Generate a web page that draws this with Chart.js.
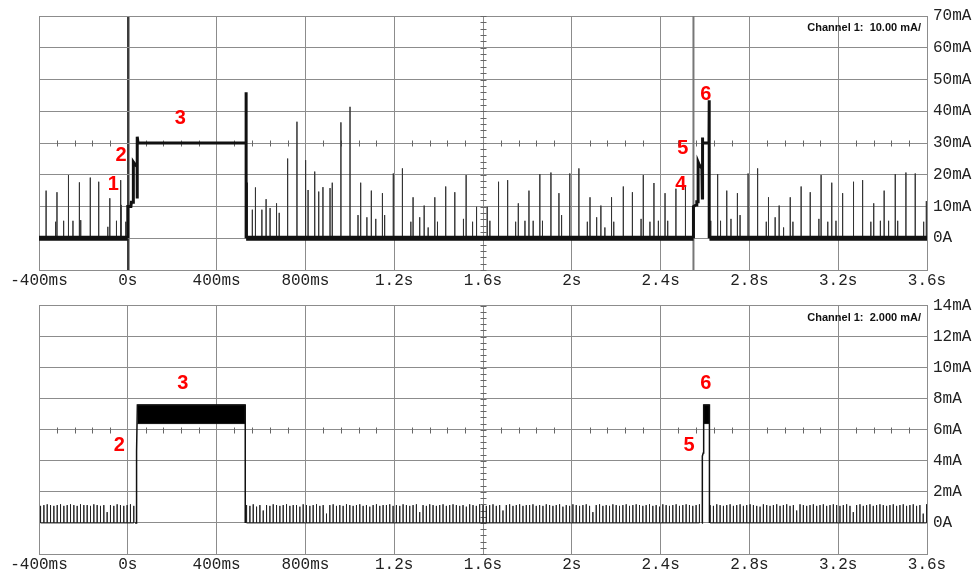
<!DOCTYPE html>
<html>
<head>
<meta charset="utf-8">
<script src="https://cdn.jsdelivr.net/npm/chart.js@4.4.1/dist/chart.umd.min.js"></script>
<style>
  html, body { margin: 0; padding: 0; background: #fff; }
  #wrap { position: relative; width: 975px; height: 575px; }
  canvas { position: absolute; left: 0; }
  #topChart { top: 0; }
  #bottomChart { top: 290px; }
</style>
</head>
<body>
<div id="wrap">
  <canvas id="topChart" width="975" height="290"></canvas>
  <canvas id="bottomChart" width="975" height="285"></canvas>
</div>
<script>
// time axis (ms)
const timeTicks = [-400, 0, 400, 800, 1200, 1600, 2000, 2400, 2800, 3200, 3600];
const timeLabels = ['-400ms', '0s', '400ms', '800ms', '1.2s', '1.6s', '2s', '2.4s', '2.8s', '3.2s', '3.6s'];

// current axes (mA)
const topTicks = [-10, 0, 10, 20, 30, 40, 50, 60, 70];
const topLabels = ['', '0A', '10mA', '20mA', '30mA', '40mA', '50mA', '60mA', '70mA'];
const bottomTicks = [-2, 0, 2, 4, 6, 8, 10, 12, 14];
const bottomLabels = ['', '0A', '2mA', '4mA', '6mA', '8mA', '10mA', '12mA', '14mA'];

// top capture, 10 mA/div
const topBaselineSpans = [[-400, 0], [533, 2548], [2620, 3600]];
const topPulse1Times = [0, 0, 14, 16, 25, 25, 30, 42, 42, 43, 46, 533, 533, 533];
const topPulse1Values = [0, 10, 10, 11.3, 11.3, 24, 23.5, 22.5, 12.5, 32, 30, 30, 46, 0];
const topPulse2Times = [2548, 2548, 2560, 2563, 2569, 2569, 2575, 2586, 2588, 2588, 2590, 2592, 2618, 2619, 2619];
const topPulse2Values = [0, 10, 10.5, 11.5, 11.5, 24, 23, 22, 12.7, 31.7, 30.5, 30, 30, 43.5, 0];
const topCursorTime = 2548;

const topSpikesBefore = [
  [-368, 15.0], [-325, 5.2], [-319, 14.5], [-289, 5.5], [-269, 19.9], [-266, 9.4], [-247, 5.5],
  [-218, 17.6], [-212, 5.7], [-169, 19.1], [-131, 17.8], [-90, 3.6], [-81, 12.6], [-51, 5.5],
  [-32, 18.3], [-30, 10.5], [-9, 5.2]
];
const topSpikesBetween = [
  [539, 17.5], [561, 9], [575, 16], [604, 9], [623, 12.3], [641, 9.5], [670, 11], [682, 8],
  [720, 25.1], [762, 36.7], [801, 24.6], [812, 15.2], [842, 21], [860, 14.7], [879, 16.1],
  [911, 15.8], [921, 17.5], [960, 36.5], [1001, 41.4], [1037, 7.3], [1049, 17.5], [1077, 6.6],
  [1097, 15], [1117, 6.1], [1147, 14.2], [1157, 7.3], [1196, 20.4], [1237, 22], [1275, 5.2],
  [1285, 12.9], [1315, 6.6], [1335, 10.3], [1353, 3.4], [1383, 12.9], [1395, 5.2], [1432, 16.3],
  [1473, 14.5], [1512, 6.1], [1524, 19.9], [1553, 5.2], [1571, 9.9], [1619, 9.9], [1631, 5.5],
  [1670, 17.8], [1711, 18.3], [1747, 5.2], [1759, 11], [1789, 5.5], [1807, 15], [1826, 5.5],
  [1856, 20.2], [1868, 5.5], [1906, 20.7], [1942, 14.2], [1954, 7.3], [1991, 20.4], [2032, 22],
  [2070, 5.2], [2082, 12.9], [2112, 6.6], [2131, 10.3], [2149, 3.4], [2179, 12.9], [2189, 5.2],
  [2232, 16.3], [2273, 14.5], [2312, 6.1], [2322, 19.9], [2352, 5.2], [2370, 17.4], [2390, 5.5],
  [2420, 14.2], [2432, 5.5], [2469, 15.6], [2512, 16.3]
];
const topSpikesAfter = [
  [2626, 5.5], [2657, 20.2], [2670, 5.5], [2698, 15], [2717, 6.1], [2746, 14.2], [2758, 7.3],
  [2794, 20.4], [2837, 22], [2876, 5.2], [2886, 12.9], [2916, 6.6], [2934, 10.3], [2954, 3.4],
  [2984, 12.9], [2996, 5.2], [3033, 16.3], [3074, 14.5], [3113, 6.1], [3123, 19.9], [3153, 5.2],
  [3171, 17.5], [3190, 5.5], [3220, 14.2], [3269, 17.8], [3310, 18.3], [3347, 5.2], [3360, 11],
  [3390, 5.5], [3407, 15], [3427, 5.5], [3457, 20.2], [3468, 5.5], [3505, 20.7], [3547, 20.4],
  [3585, 5.2], [3597, 11.7]
];

// bottom capture, 2 mA/div
const bottomPulse1Times = [33, 37, 38, 41, 43, 529, 529];
const bottomPulse1Values = [0, 0, 4.3, 4.6, 7.6, 7.6, 0];
const bottomPulse2Times = [2586, 2588, 2588, 2592, 2594, 2620, 2620];
const bottomPulse2Values = [0, 0, 4.3, 4.5, 7.6, 7.6, 0];
const bottomBands = [[43, 529], [2594, 2620]];
const bandHigh = 7.6;
const bandLow = 6.4;

// idle ripple, one pulse every 15 ms
const combPeriod = 15;
const combStarts = [-393, 535, 2623];
const combA = [1.1, 1.15, 1.2, 1.15, 1.1, 1.15, 1.2, 1.1, 1.15, 1.2, 1.15, 1.1, 1.2, 1.15, 1.15,
  1.1, 1.2, 1.15, 1.1, 1.15, 0.7, 1.15, 1.1, 1.2, 1.15, 1.1, 1.15, 1.2, 1.1];
const combB = [1.15, 1.1, 1.2, 1.05, 1.15, 0.8, 1.15, 1.1, 1.2, 1.15,
  1.1, 1.15, 1.2, 1.1, 1.15, 1.15, 1.05, 1.2, 1.15, 1.1,
  1.15, 1.2, 1.1, 1.15, 0.6, 1.15, 1.2, 1.1, 1.15, 1.1,
  1.2, 1.15, 1.1, 1.15, 1.2, 1.1, 1.15, 1.05, 1.15, 1.2,
  1.1, 1.15, 1.15, 1.2, 1.1, 1.15, 1.1, 1.2, 1.15, 1.1,
  1.15, 1.2, 0.7, 1.15, 1.1, 1.2, 1.15, 1.1, 1.15, 1.2,
  1.1, 1.15, 1.2, 1.15, 1.1, 1.15, 1.05, 1.2, 1.15, 1.1,
  1.2, 1.15, 1.1, 1.15, 1.2, 1.1, 1.15, 0.8, 1.15, 1.2,
  1.1, 1.15, 1.2, 1.1, 1.15, 1.15, 1.2, 1.1, 1.15, 1.1,
  1.2, 1.15, 1.1, 1.15, 1.2, 1.05, 1.15, 1.1, 1.2, 1.15,
  1.1, 1.15, 1.2, 1.1, 0.7, 1.15, 1.2, 1.1, 1.15, 1.1,
  1.2, 1.15, 1.1, 1.15, 1.2, 1.1, 1.15, 1.2, 1.15, 1.1,
  1.15, 1.2, 1.1, 1.15, 1.05, 1.2, 1.15, 1.1, 1.15, 1.2,
  1.1, 1.15, 1.2, 1.15, 1.1, 1.15, 1.2];
const combC = [1.15, 1.1, 1.2, 1.15, 1.1, 1.15, 1.2, 1.1, 1.15, 1.2,
  1.1, 1.15, 1.2, 1.15, 1.1, 1.05, 1.2, 1.15, 1.1, 1.15,
  1.2, 1.1, 1.15, 1.2, 1.1, 1.15, 0.8, 1.2, 1.15, 1.1,
  1.15, 1.2, 1.1, 1.15, 1.2, 1.1, 1.15, 1.2, 1.15, 1.1,
  1.15, 1.2, 1.1, 0.7, 1.15, 1.2, 1.1, 1.15, 1.2, 1.1,
  1.15, 1.2, 1.15, 1.1, 1.15, 1.2, 1.1, 1.15, 1.2, 1.1,
  1.15, 1.2, 1.1, 1.15, 0.6, 1.2];

// red markers: [text, time, current]
const topNotes = [['1', -65, 16.8], ['2', -30, 26], ['3', 237, 37.6], ['4', 2491, 16.8], ['5', 2500, 28.3], ['6', 2604, 45.4]];
const bottomNotes = [['2', -38, 5.0], ['3', 248, 9.0], ['5', 2528, 5.0], ['6', 2604, 9.0]];

const GRID = '#8c8c8c';
const INK = '#111';

function trace(times, values) {
    return times.map((t, i) => ({ x: t, y: values[i] }));
}

function spans(list, y) {
    return list.flatMap(([a, b]) => [{ x: a, y }, { x: b, y }, { x: b, y: null }]);
}

function spikes(...groups) {
    return groups.flatMap((pairs) => [
        ...pairs.flatMap(([t, v]) => [{ x: t, y: 0 }, { x: t, y: v }, { x: t, y: 0 }]),
        { x: pairs[pairs.length - 1][0], y: null },
    ]);
}

function comb(start, heights) {
    const pts = heights.flatMap((h, i) => {
        const t = start + i * combPeriod;
        return [{ x: t, y: 0 }, { x: t, y: h }, { x: t, y: 0 }];
    });
    pts.push({ x: start, y: null });
    return pts;
}

function lineSet(data, width, color) {
    return { data, borderColor: color, borderWidth: width, pointRadius: 0, fill: false, spanGaps: false };
}

const scopeDecor = {
    id: 'scopeDecor',
    beforeDatasetsDraw(chart, args, opts) {
        const { ctx, scales: { x, y } } = chart;
        const cy = Math.round(y.getPixelForValue(opts.centre)) + 0.5;
        const cx = Math.round(x.getPixelForValue(1600)) + 0.5;
        ctx.save();
        ctx.strokeStyle = '#666';
        ctx.lineWidth = 1;
        ctx.beginPath();
        for (let t = -400; t <= 3600; t += 80) {
            if (t % 400 === 0) continue;
            const px = Math.round(x.getPixelForValue(t)) + 0.5;
            ctx.moveTo(px, cy - 3);
            ctx.lineTo(px, cy + 3);
        }
        for (let v = opts.min; v <= opts.max + 1e-6; v += opts.minor) {
            const py = Math.round(y.getPixelForValue(v)) + 0.5;
            ctx.moveTo(cx - 3, py);
            ctx.lineTo(cx + 3, py);
        }
        ctx.stroke();
        ctx.restore();
    },
    afterDatasetsDraw(chart, args, opts) {
        const { ctx, chartArea, scales: { x, y } } = chart;
        ctx.save();
        ctx.fillStyle = '#111';
        ctx.font = 'bold 11px "Liberation Sans", Arial, sans-serif';
        ctx.textAlign = 'right';
        ctx.textBaseline = 'middle';
        ctx.fillText(opts.channel, chartArea.right - 6, chartArea.top + 12);
        ctx.fillStyle = '#ff0000';
        ctx.font = 'bold 20px "Liberation Sans", Arial, sans-serif';
        ctx.textAlign = 'center';
        opts.notes.forEach(([text, t, v]) => {
            ctx.fillText(text, x.getPixelForValue(t), y.getPixelForValue(v));
        });
        ctx.restore();
    },
};

function scopeOptions(cfg) {
    const tickFont = { family: '"Liberation Mono", "Courier New", monospace', size: 16 };
    return {
        responsive: false,
        animation: false,
        devicePixelRatio: 1,
        layout: { padding: { left: 39, top: cfg.padTop, right: 0, bottom: 0 } },
        plugins: {
            legend: { display: false },
            tooltip: { enabled: false },
            scopeDecor: cfg.decor,
        },
        elements: { line: { tension: 0, borderCapStyle: 'butt', borderJoinStyle: 'miter' } },
        scales: {
            x: {
                type: 'linear',
                min: -400,
                max: 3600,
                afterBuildTicks: (s) => { s.ticks = timeTicks.map((value) => ({ value })); },
                afterFit: (s) => { s.height = cfg.xHeight; },
                ticks: {
                    callback: (value, i) => timeLabels[i],
                    font: tickFont,
                    color: '#222',
                    padding: 1,
                    maxRotation: 0,
                    autoSkip: false,
                },
                grid: {
                    drawTicks: false,
                    color: (ctx) => (cfg.darkZero && ctx.tick && ctx.tick.value === 0 ? '#3c3c3c' : GRID),
                    lineWidth: (ctx) => (cfg.darkZero && ctx.tick && ctx.tick.value === 0 ? 2.5 : 1),
                },
                border: { color: GRID },
            },
            y: {
                type: 'linear',
                position: 'right',
                min: cfg.ticks[0],
                max: cfg.ticks[cfg.ticks.length - 1],
                afterBuildTicks: (s) => { s.ticks = cfg.ticks.map((value) => ({ value })); },
                afterFit: (s) => { s.width = 48; },
                ticks: {
                    callback: (value, i) => cfg.labels[i],
                    font: tickFont,
                    color: '#222',
                    padding: 6,
                    crossAlign: 'near',
                },
                grid: { drawTicks: false, color: GRID },
                border: { color: GRID },
            },
        },
    };
}

new Chart(document.getElementById('topChart'), {
    type: 'line',
    data: {
        datasets: [
            lineSet(spans(topBaselineSpans, 0), 5, INK),
            lineSet(trace(topPulse1Times, topPulse1Values), 3, INK),
            lineSet(trace(topPulse2Times, topPulse2Values), 3, INK),
            lineSet(spikes(topSpikesBefore, topSpikesBetween, topSpikesAfter), 1, '#333'),
            lineSet([{ x: topCursorTime, y: topTicks[0] }, { x: topCursorTime, y: topTicks[topTicks.length - 1] }], 2, '#777'),
        ],
    },
    options: scopeOptions({
        padTop: 16,
        xHeight: 20,
        ticks: topTicks,
        labels: topLabels,
        darkZero: true,
        decor: { centre: 30, min: -10, max: 70, minor: 2, channel: 'Channel 1:  10.00 mA/', notes: topNotes },
    }),
    plugins: [scopeDecor],
});

new Chart(document.getElementById('bottomChart'), {
    type: 'line',
    data: {
        datasets: [
            lineSet(trace(bottomPulse1Times, bottomPulse1Values), 1.5, INK),
            lineSet(trace(bottomPulse2Times, bottomPulse2Values), 1.5, INK),
            lineSet(spans(bottomBands, bandLow), 1, INK),
            Object.assign(lineSet(spans(bottomBands, bandHigh), 1, INK), { fill: '-1', backgroundColor: '#000' }),
            lineSet([...comb(combStarts[0], combA), ...comb(combStarts[1], combB), ...comb(combStarts[2], combC)], 1, '#222'),
        ],
    },
    options: scopeOptions({
        padTop: 10,
        xHeight: 21,
        ticks: bottomTicks,
        labels: bottomLabels,
        darkZero: false,
        decor: { centre: 6, min: -2, max: 14, minor: 0.4, channel: 'Channel 1:  2.000 mA/', notes: bottomNotes },
    }),
    plugins: [scopeDecor],
});
</script>
</body>
</html>
